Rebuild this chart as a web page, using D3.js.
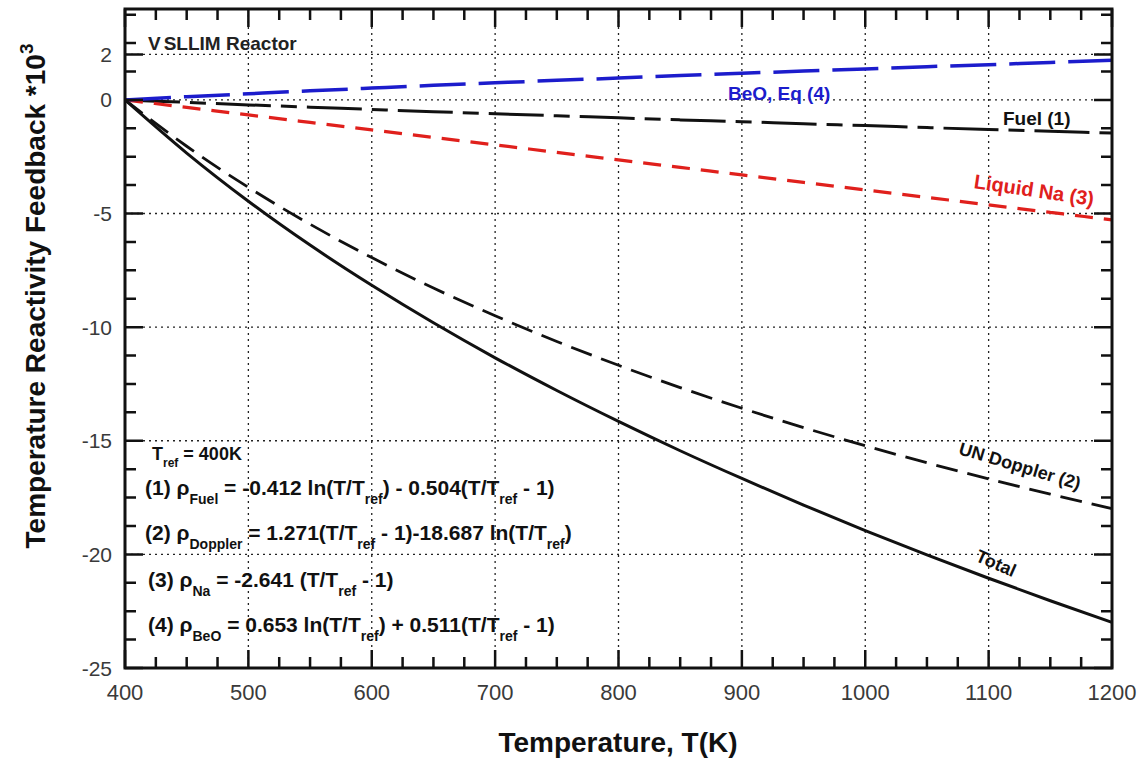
<!DOCTYPE html>
<html>
<head>
<meta charset="utf-8">
<script src="https://cdn.jsdelivr.net/npm/d3@7"></script>
<style>
  html, body { margin: 0; padding: 0; background: #fff; }
  svg { display: block; }
  text { font-family: "Liberation Sans", Arial, sans-serif; }
</style>
</head>
<body>
<svg id="chart" width="1146" height="762"></svg>
<script>
// Data (reactivity *10^3 vs temperature in K)
const temps = [400, 450, 500, 550, 600, 650, 700, 750, 800, 850, 900, 950, 1000, 1050, 1100, 1150, 1200];
const fuel = [0, -0.11, -0.22, -0.32, -0.42, -0.52, -0.61, -0.70, -0.79, -0.88, -0.96, -1.05, -1.13, -1.22, -1.30, -1.38, -1.46];
const doppler = [0, -2.04, -3.85, -5.47, -6.94, -8.28, -9.50, -10.63, -11.68, -12.66, -13.57, -14.42, -15.22, -15.97, -16.68, -17.35, -17.99];
const sodium = [0, -0.33, -0.66, -0.99, -1.32, -1.65, -1.98, -2.31, -2.64, -2.97, -3.30, -3.63, -3.96, -4.29, -4.62, -4.95, -5.28];
const beo = [0, 0.14, 0.27, 0.40, 0.52, 0.64, 0.75, 0.86, 0.96, 1.07, 1.17, 1.27, 1.36, 1.46, 1.55, 1.65, 1.74];
const total = [0, -2.34, -4.46, -6.39, -8.16, -9.81, -11.35, -12.79, -14.15, -15.44, -16.66, -17.83, -18.95, -20.02, -21.05, -22.04, -22.99];

const xTicks = [400, 500, 600, 700, 800, 900, 1000, 1100, 1200];
const yTicks = [2, 0, -5, -10, -15, -20, -25];

const seriesNames = ['Fuel (1)', 'UN Doppler (2)', 'Liquid Na (3)', 'BeO, Eq (4)', 'Total'];
const seriesValues = [fuel, doppler, sodium, beo, total];

const equations = [
    [['T', 0], ['ref', 1], [' = 400K', 0]],
    [['(1) \u03C1', 0], ['Fuel', 1], [' = -0.412 ln(T/T', 0], ['ref', 1], [') - 0.504(T/T', 0], ['ref', 1], [' - 1)', 0]],
    [['(2) \u03C1', 0], ['Doppler', 1], [' = 1.271(T/T', 0], ['ref', 1], [' - 1)-18.687 ln(T/T', 0], ['ref', 1], [')', 0]],
    [['(3) \u03C1', 0], ['Na', 1], [' = -2.641 (T/T', 0], ['ref', 1], [' - 1)', 0]],
    [['(4) \u03C1', 0], ['BeO', 1], [' = 0.653 ln(T/T', 0], ['ref', 1], [') + 0.511(T/T', 0], ['ref', 1], [' - 1)', 0]]
];

// Layout
const W = 1146, H = 762;
const margin = { top: 9, right: 34, bottom: 94, left: 125 };
const iw = W - margin.left - margin.right;
const ih = H - margin.top - margin.bottom;

const styles = {
    'Fuel (1)': { color: '#111', dash: '55,10,16,10', width: 3 },
    'UN Doppler (2)': { color: '#111', dash: '22,10', width: 2.8 },
    'Liquid Na (3)': { color: '#e0201c', dash: '18,11', width: 3.2 },
    'BeO, Eq (4)': { color: '#1c1ccc', dash: '46,13', width: 3.5 },
    'Total': { color: '#111', dash: null, width: 3 }
};

const svg = d3.select('#chart');
const g = svg.append('g').attr('transform', `translate(${margin.left},${margin.top})`);

const x = d3.scaleLinear().domain([400, 1200]).range([0, iw]);
const y = d3.scaleLinear().domain([-25, 4]).range([ih, 0]);

// Minor tick positions
const xMinor = d3.range(400, 1201, 25).filter(v => v % 100 !== 0);
const yMinor = d3.range(-25, 4, 1.25).filter(v => v % 5 !== 0);

// Grid (dotted) at major ticks
g.append('g').selectAll('line')
    .data(xTicks.slice(1, -1))
    .enter().append('line')
    .attr('x1', d => x(d)).attr('x2', d => x(d))
    .attr('y1', 0).attr('y2', ih)
    .attr('stroke', '#222').attr('stroke-width', 1.3)
    .attr('stroke-dasharray', '2,4');

g.append('g').selectAll('line')
    .data(yTicks.filter(d => d > -25))
    .enter().append('line')
    .attr('x1', 0).attr('x2', iw)
    .attr('y1', d => y(d)).attr('y2', d => y(d))
    .attr('stroke', '#222').attr('stroke-width', 1.3)
    .attr('stroke-dasharray', '2,4');

// Series lines
const lineGen = d3.line()
    .x((d, i) => x(temps[i]))
    .y(d => y(d))
    .curve(d3.curveMonotoneX);

seriesNames.forEach((name, k) => {
    const s = styles[name];
    g.append('path')
        .datum(seriesValues[k])
        .attr('fill', 'none')
        .attr('stroke', s.color)
        .attr('stroke-width', s.width)
        .attr('stroke-dasharray', s.dash)
        .attr('d', lineGen);
});

// Inward ticks on all four sides, one path built from the scales
const MAJ = 18, MIN = 11;
let tickD = '';
xMinor.forEach(v => { tickD += `M${x(v)},${ih}v${-MIN}M${x(v)},0v${MIN}`; });
xTicks.forEach(v => { tickD += `M${x(v)},${ih}v${-MAJ}M${x(v)},0v${MAJ}`; });
yMinor.forEach(v => { tickD += `M0,${y(v)}h${MIN}M${iw},${y(v)}h${-MIN}`; });
yTicks.forEach(v => { tickD += `M0,${y(v)}h${MAJ}M${iw},${y(v)}h${-MAJ}`; });
g.append('path')
    .attr('d', tickD)
    .attr('fill', 'none')
    .attr('stroke', '#111')
    .attr('stroke-width', 2.5);

// Frame
g.append('rect')
    .attr('width', iw).attr('height', ih)
    .attr('fill', 'none').attr('stroke', '#111').attr('stroke-width', 3);

// Tick labels
g.append('g').selectAll('text')
    .data(xTicks)
    .enter().append('text')
    .attr('x', d => x(d)).attr('y', ih + 32)
    .attr('text-anchor', 'middle')
    .attr('fill', '#3a3a3a')
    .style('font-size', '22px')
    .text(d => d);

g.append('g').selectAll('text')
    .data(yTicks)
    .enter().append('text')
    .attr('x', -13).attr('y', d => y(d) + 7.5)
    .attr('text-anchor', 'end')
    .attr('fill', '#3a3a3a')
    .style('font-size', '21px')
    .text(d => d);

// Axis titles
svg.append('text')
    .attr('x', 618).attr('y', 752)
    .attr('text-anchor', 'middle')
    .style('font-weight', 'bold')
    .style('font-size', '28px')
    .attr('fill', '#111')
    .text('Temperature, T(K)');

const yTitle = svg.append('text')
    .attr('transform', 'translate(45,296) rotate(-90)')
    .attr('text-anchor', 'middle')
    .style('font-weight', 'bold')
    .style('font-size', '28px')
    .attr('fill', '#111');
yTitle.append('tspan').text('Temperature Reactivity Feedback *10');
yTitle.append('tspan').attr('dy', -12).style('font-size', '19px').text('3');

// Annotations
const ann = g.append('g').style('font-weight', 'bold');
const heading = ann.append('text').attr('x', 23).attr('y', 41).style('font-size', '19px').attr('fill', '#222');
heading.append('tspan').text('V');
heading.append('tspan').attr('dx', 3).text('SLLIM Reactor');
ann.append('text').attr('x', x(888.7)).attr('y', y(0)).style('font-size', '19px').attr('fill', '#1c1ccc').text('BeO, Eq (4)');
ann.append('text').attr('x', x(1111.6)).attr('y', y(-1.1)).style('font-size', '19px').attr('fill', '#111').text('Fuel (1)');
ann.append('text')
    .attr('transform', `translate(${x(1136)},${y(-4.27)}) rotate(8.5)`)
    .attr('text-anchor', 'middle')
    .style('font-size', '20px').attr('fill', '#e0201c').text('Liquid Na (3)');
ann.append('text')
    .attr('transform', `translate(${x(1124)},${y(-16.37)}) rotate(16.6)`)
    .attr('text-anchor', 'middle')
    .style('font-size', '18px').attr('fill', '#111').text('UN Doppler (2)');
ann.append('text')
    .attr('transform', `translate(${x(1104)},${y(-20.64)}) rotate(24)`)
    .attr('text-anchor', 'middle')
    .style('font-size', '18px').attr('fill', '#111').text('Total');

// Equation block
const eqBase = [460, 495, 540, 587, 632];
const eqX = [152, 145, 145, 148, 148];
const eqG = svg.append('g').style('font-weight', 'bold').attr('fill', '#111');
equations.forEach((segs, i) => {
    const big = i === 0 ? 18 : 21;
    const small = i === 0 ? 12 : 14;
    const drop = i === 0 ? 7 : 9;
    const t = eqG.append('text')
        .attr('x', eqX[i])
        .attr('y', eqBase[i])
        .style('font-size', big + 'px');
    let low = false;
    segs.forEach(([txt, sub]) => {
        const ts = t.append('tspan').text(txt);
        if (sub) ts.style('font-size', small + 'px');
        if (sub && !low) { ts.attr('dy', drop); low = true; }
        else if (!sub && low) { ts.attr('dy', -drop); low = false; }
    });
});
</script>
</body>
</html>
